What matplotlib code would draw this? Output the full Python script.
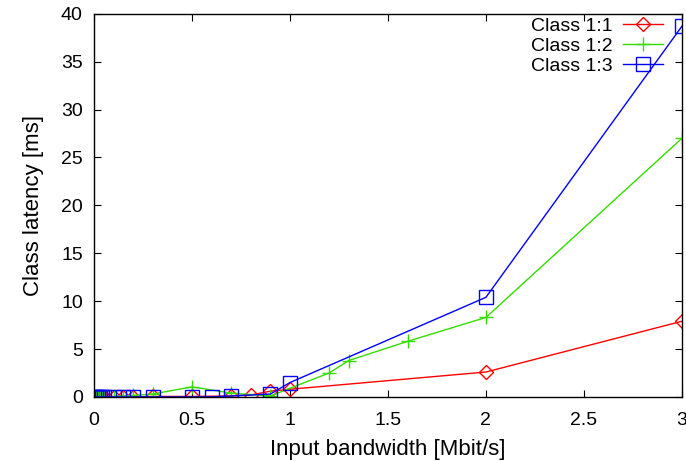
import matplotlib
matplotlib.use("Agg")
import matplotlib.pyplot as plt

plt.rcParams["font.family"] = ["Liberation Sans", "DejaVu Sans"]

# input bandwidth [Mbit/s]
x_11 = [0, 0.01, 0.02, 0.03, 0.04, 0.05, 0.1, 0.15, 0.2, 0.3, 0.5, 0.7, 0.8, 0.9, 1.0, 2.0, 3.0]
y_11 = [0, 0, 0, 0, 0, 0, 0, 0, 0, 0.05, 0.05, 0.1, 0.2, 0.6, 0.8, 2.6, 7.9]

x_12 = [0, 0.01, 0.02, 0.03, 0.04, 0.05, 0.1, 0.15, 0.2, 0.3, 0.5, 0.7, 0.9, 1.2, 1.3, 1.6, 2.0, 3.0]
y_12 = [0, 0, 0, 0, 0, 0, 0.05, 0.1, 0.15, 0.3, 1.05, 0.4, 0.1, 2.5, 3.8, 5.8, 8.3, 27.0]

x_13 = [0, 0.01, 0.02, 0.03, 0.04, 0.05, 0.1, 0.15, 0.2, 0.3, 0.5, 0.6, 0.7, 0.9, 1.0, 2.0, 3.0]
y_13 = [0, 0, 0, 0, 0, 0, 0, 0, 0, 0, 0, 0, 0.1, 0.3, 1.5, 10.4, 38.7]

fig = plt.figure(figsize=(6.86, 4.61), dpi=100)
ax = fig.add_axes([0.137, 0.139, 0.857, 0.831])

ax.plot(x_11, y_11, color="#ff0000", lw=1, marker="D", ms=7, mfc="none",
        mec="#ff0000", mew=1, label="Class 1:1")
ax.plot(x_12, y_12, color="#33dd00", lw=1, marker="+", ms=10, mew=1,
        label="Class 1:2")
ax.plot(x_13, y_13, color="#0000ff", lw=1, marker="s", ms=10, mfc="none",
        mec="#0000ff", mew=1, label="Class 1:3")

ax.set_xlim(0, 3)
ax.set_ylim(0, 40)
ax.set_xticks([0, 0.5, 1, 1.5, 2, 2.5, 3])
ax.set_xticklabels(["0", "0.5", "1", "1.5", "2", "2.5", "3"])
ax.set_yticks(range(0, 41, 5))
ax.tick_params(direction="in", top=True, right=True, labelsize=14, length=5)
ax.tick_params(axis="x", pad=11)
ax.tick_params(axis="y", pad=8)
for s in ax.spines.values():
    s.set_linewidth(1)

ax.set_xlabel("Input bandwidth [Mbit/s]", fontsize=16, labelpad=7)
ax.set_ylabel("Class latency [ms]", fontsize=16, labelpad=12)

ax.legend(loc="upper right", frameon=False, markerfirst=False, fontsize=14,
          handlelength=2.05, labelspacing=0.12, borderaxespad=0, borderpad=0,
          handletextpad=0.55, bbox_to_anchor=(0.968, 0.99))

fig.savefig("out.png", dpi=100)
